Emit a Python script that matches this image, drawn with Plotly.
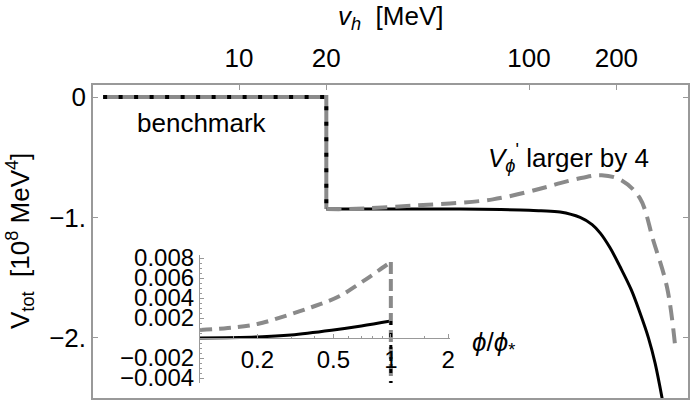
import plotly.graph_objects as go

# main panel: v_h [MeV] on log axis, V_tot in 1e8 MeV^4
vh_step = [3.4, 20, 20]
v_step = [0, 0, -0.93]

vh_bench = [20, 30, 50, 80, 100, 110, 128, 150, 165, 176, 190, 206, 225, 241, 258, 272, 290]
v_bench = [-0.93, -0.93, -0.93, -0.935, -0.94, -0.945, -0.955, -1.0, -1.06, -1.13, -1.25,
           -1.41, -1.6, -1.79, -2.0, -2.21, -2.55]

vh_larger = [20, 24, 41, 75, 118, 128, 153, 178, 208, 241, 268, 299, 319]
v_larger = [-0.93, -0.93, -0.90, -0.85, -0.74, -0.715, -0.67, -0.65, -0.69, -0.84, -1.19,
            -1.58, -2.07]

# inset: phi/phi_* on log axis
phi_bench = [0.1, 0.2, 0.3, 0.5, 0.7, 1.0]
vin_bench = [0.0, 0.0001, 0.0003, 0.0008, 0.0012, 0.0017]
phi_larger = [0.1, 0.14, 0.2, 0.29, 0.4, 0.54, 0.68, 0.8, 0.9, 1.0]
vin_larger = [0.0008, 0.0010, 0.0014, 0.0023, 0.0032, 0.0042, 0.0054, 0.0063, 0.0070, 0.0076]
vin_bottom = -0.0045

top_ticks = [10, 20, 100, 200]
y_ticks = [0, -1, -2]
y_ticktext = ["0", "\u22121.", "\u22122."]
inset_xticks = [0.2, 0.5, 1, 2]
inset_xminor = [0.15, 0.3, 0.4, 0.6, 0.7, 0.8, 0.9, 1.5]
inset_yticks = [0.008, 0.006, 0.004, 0.002, -0.002, -0.004]
inset_yticktext = ["0.008", "0.006", "0.004", "0.002", "\u22120.002", "\u22120.004"]

GREY = "#8a8a8a"
FRAME = "#999999"
FONT = "Liberation Sans"

# plot area in pixels
L, R, T, B = 93, 688, 85, 398


def px(x):
    return (x - L) / (R - L)


def py(y):
    return (B - y) / (B - T)


fig = go.Figure()

# main curves
fig.add_trace(go.Scatter(x=vh_step, y=v_step, mode="lines",
                         line=dict(color=GREY, width=4)))
fig.add_trace(go.Scatter(x=vh_step, y=v_step, mode="lines",
                         line=dict(color="black", width=4, dash="4px,11.5px")))
fig.add_trace(go.Scatter(x=vh_bench, y=v_bench, mode="lines", line_shape="spline",
                         line=dict(color="black", width=3)))
fig.add_trace(go.Scatter(x=vh_larger, y=v_larger, mode="lines", line_shape="spline",
                         line=dict(color=GREY, width=4, dash="15px,8px")))

# inset curves
fig.add_trace(go.Scatter(x=phi_bench, y=vin_bench, mode="lines", line_shape="spline",
                         xaxis="x3", yaxis="y3",
                         line=dict(color="black", width=3)))
fig.add_trace(go.Scatter(x=phi_larger, y=vin_larger, mode="lines", line_shape="spline",
                         xaxis="x3", yaxis="y3",
                         line=dict(color=GREY, width=4, dash="12px,7px")))
fig.add_trace(go.Scatter(x=[1, 1], y=[vin_larger[-1], vin_bottom], mode="lines",
                         xaxis="x3", yaxis="y3",
                         line=dict(color=GREY, width=4, dash="12px,5px")))
fig.add_trace(go.Scatter(x=[1, 1], y=[vin_bench[-1], vin_bottom], mode="lines",
                         xaxis="x3", yaxis="y3",
                         line=dict(color="black", width=3, dash="4px,8px")))

fig.update_layout(
    width=698,
    height=401,
    margin=dict(l=L, r=698 - R, t=T, b=401 - B, autoexpand=False),
    paper_bgcolor="white",
    plot_bgcolor="white",
    showlegend=False,
    font=dict(family=FONT, size=26, color="black"),
    xaxis=dict(
        type="log", range=[0.4966, 2.548], side="top", automargin=False,
        tickmode="array", tickvals=top_ticks, ticktext=[str(t) for t in top_ticks],
        ticks="inside", ticklen=5, tickcolor=FRAME, ticklabelstandoff=6,
        showline=True, mirror=True, linecolor=FRAME, linewidth=1.5,
        showgrid=False, zeroline=False,
    ),
    yaxis=dict(
        range=[-2.5, 0.1], automargin=False,
        tickmode="array", tickvals=y_ticks, ticktext=y_ticktext,
        ticks="inside", ticklen=5, tickcolor=FRAME,
        showline=True, mirror="ticks", linecolor=FRAME, linewidth=1.5,
        showgrid=False, zeroline=False,
    ),
    xaxis3=dict(
        type="log", range=[-1, 0.31], domain=[px(200), px(450)], automargin=False,
        anchor="free", position=py(338),
        tickmode="array", tickvals=inset_xticks, ticktext=["0.2", "0.5", "1", "2"],
        ticks="inside", ticklen=4, tickcolor=FRAME, tickfont=dict(size=24),
        minor=dict(tickvals=inset_xminor, ticks="inside", ticklen=2, tickcolor=FRAME),
        showline=True, linecolor=FRAME, linewidth=1.2,
        showgrid=False, zeroline=False,
    ),
    yaxis3=dict(
        range=[vin_bottom, 0.0083], domain=[py(383), py(255)], anchor="x3",
        automargin=False,
        tickmode="array", tickvals=inset_yticks, ticktext=inset_yticktext,
        ticks="inside", ticklen=4, tickcolor=FRAME, tickfont=dict(size=24),
        minor=dict(dtick=0.0005, ticks="inside", ticklen=2, tickcolor=FRAME),
        showline=True, linecolor=FRAME, linewidth=1.2,
        showgrid=False, zeroline=False,
    ),
)

annotations = [
    dict(x=px(135), y=py(123), text="benchmark", xanchor="left", yanchor="middle"),
    dict(x=px(568), y=py(158),
         text="<i>V</i><sub><i>\u03d5</i></sub><sup>'</sup> larger by 4",
         xanchor="center", yanchor="middle"),
    dict(x=px(470), y=py(343), text="<i>\u03d5</i>/<i>\u03d5</i><sub>*</sub>",
         xanchor="left", yanchor="middle"),
    dict(x=px(390), y=py(17), text="<i>v</i><sub><i>h</i></sub>  [MeV]",
         xanchor="center", yanchor="middle"),
    dict(x=px(20), y=py(241), text="V<sub>tot</sub>  [10<sup>8</sup> MeV<sup>4</sup>]",
         textangle=-90, xanchor="center", yanchor="middle"),
]
for a in annotations:
    a.update(xref="paper", yref="paper", showarrow=False)
    fig.add_annotation(**a)

# drop the browser's default page margin so the figure sits at (0, 0)
fig.write_html(
    "out.html",
    config={"displayModeBar": False},
    post_script="document.body.style.margin='0';document.body.style.overflow='hidden';",
)
